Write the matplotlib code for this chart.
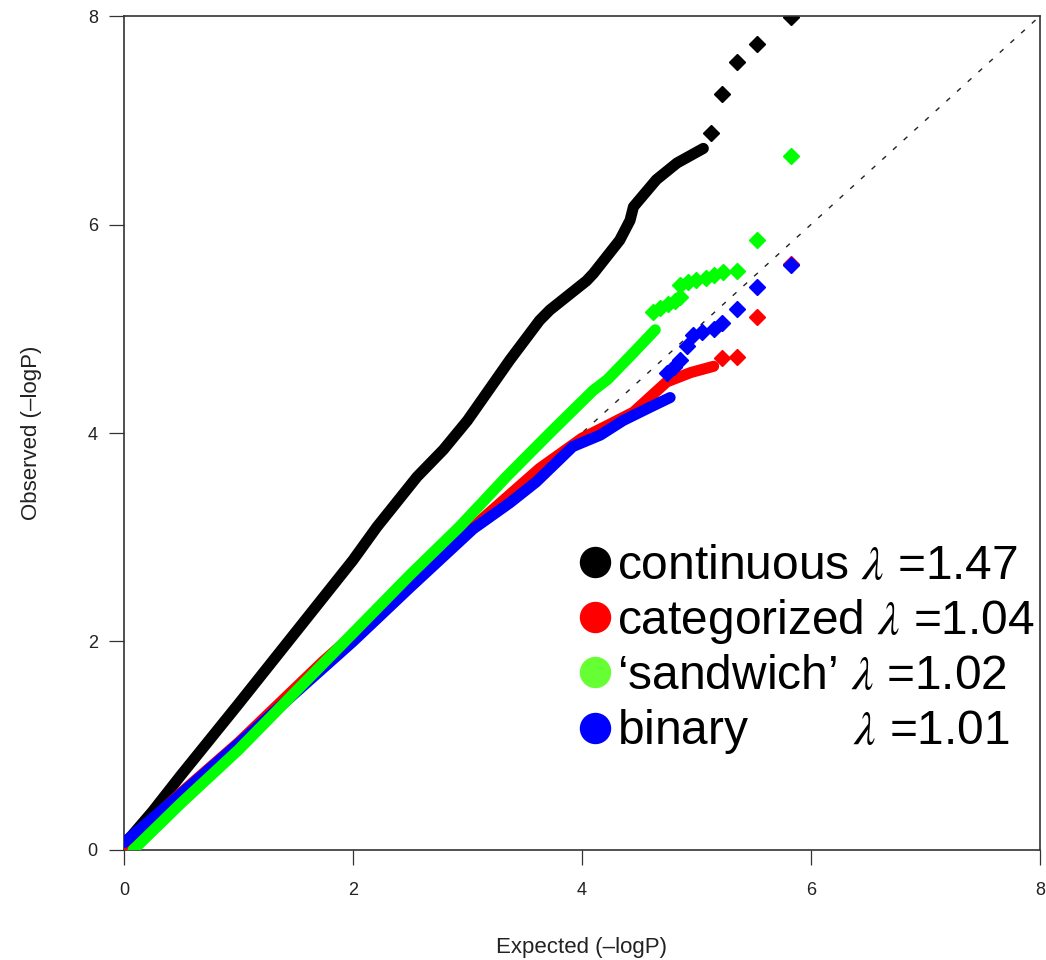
import matplotlib
matplotlib.use("Agg")
import matplotlib.pyplot as plt
from matplotlib.lines import Line2D

plt.rcParams["font.family"] = ["Liberation Sans", "DejaVu Sans"]
plt.rcParams["mathtext.fontset"] = "stix"

# dense part of each QQ curve (expected, observed)
cont_x = [0.00, 0.25, 0.50, 1.00, 1.50, 2.00, 2.21, 2.56, 2.79, 3.00, 3.37, 3.63, 3.72, 4.04, 4.10, 4.33, 4.42, 4.45, 4.65, 4.83, 5.06]
cont_y = [0.05, 0.37, 0.72, 1.40, 2.09, 2.78, 3.10, 3.58, 3.84, 4.12, 4.70, 5.08, 5.18, 5.46, 5.53, 5.85, 6.04, 6.17, 6.43, 6.59, 6.73]
cat_x = [0.00, 0.50, 1.00, 1.74, 2.50, 3.05, 3.63, 4.00, 4.20, 4.45, 4.74, 4.95, 5.15]
cat_y = [0.04, 0.55, 1.03, 1.81, 2.55, 3.10, 3.66, 3.95, 4.06, 4.20, 4.49, 4.58, 4.64]
bin_x = [0.00, 0.50, 1.00, 1.50, 2.00, 2.50, 3.05, 3.37, 3.60, 3.92, 4.16, 4.36, 4.60, 4.77]
bin_y = [0.07, 0.54, 1.02, 1.51, 2.00, 2.52, 3.08, 3.33, 3.53, 3.87, 3.98, 4.12, 4.25, 4.34]
sand_x = [0.08, 0.50, 1.00, 1.50, 2.00, 2.50, 2.93, 3.34, 3.72, 4.10, 4.22, 4.45, 4.64]
sand_y = [0.00, 0.45, 0.96, 1.52, 2.08, 2.64, 3.10, 3.58, 4.00, 4.41, 4.51, 4.77, 4.99]

# sparse tail points
cont_tx = [5.13, 5.22, 5.35, 5.53, 5.83]
cont_ty = [6.88, 7.25, 7.56, 7.73, 7.99]
cat_tx = [5.22, 5.35, 5.53, 5.83]
cat_ty = [4.72, 4.73, 5.11, 5.62]
bin_tx = [4.74, 4.80, 4.86, 4.92, 4.97, 5.05, 5.15, 5.22, 5.35, 5.53, 5.83]
bin_ty = [4.58, 4.63, 4.70, 4.83, 4.94, 4.97, 5.00, 5.06, 5.19, 5.40, 5.61]
sand_tx = [4.62, 4.68, 4.75, 4.81, 4.86, 4.86, 4.93, 5.00, 5.08, 5.15, 5.23, 5.35, 5.53, 5.83]
sand_ty = [5.16, 5.20, 5.24, 5.27, 5.30, 5.42, 5.45, 5.47, 5.49, 5.52, 5.54, 5.55, 5.85, 6.66]

labels = ["continuous $\\lambda$ =1.47", "categorized $\\lambda$ =1.04",
          "\u2018sandwich\u2019 $\\lambda$ =1.02", "binary        $\\lambda$ =1.01"]
legend_colors = ["#000000", "#ff0000", "#66ff33", "#0000ff"]

fig = plt.figure(figsize=(10.46, 9.6), dpi=100)
ax = fig.add_axes([0.1185, 0.1146, 0.8757, 0.8687])

lim = [0, 8]
ax.plot(lim, lim, color="#222222", lw=1, ls=(0, (3.6, 6.8)), zorder=1)

series = [
    (cont_x, cont_y, cont_tx, cont_ty, "#000000"),
    (cat_x, cat_y, cat_tx, cat_ty, "#ff0000"),
    (bin_x, bin_y, bin_tx, bin_ty, "#0000ff"),
    (sand_x, sand_y, sand_tx, sand_ty, "#00ff00"),
]
for i, (x, y, tx, ty, c) in enumerate(series):
    ax.plot(x, y, color=c, lw=8, solid_capstyle="round", solid_joinstyle="round", zorder=2 + i)
    ax.plot(tx, ty, ls="none", marker="D", ms=8.2, color=c, mec=c, zorder=2 + i)

ax.set_xlim(lim)
ax.set_ylim(lim)
ax.set_xticks([0, 2, 4, 6, 8])
ax.set_yticks([0, 2, 4, 6, 8])
ax.tick_params(direction="out", length=10.8, width=0.9, color="#333333",
               labelsize=13, labelcolor="#222222")
ax.tick_params(axis="x", pad=12)
ax.tick_params(axis="y", pad=8)
for s in ax.spines.values():
    s.set_linewidth(1.2)
    s.set_color("#333333")

ax.set_xlabel("Expected (\u2013logP)", fontsize=16, color="#222222")
ax.set_ylabel("Observed (\u2013logP)", fontsize=16, color="#222222")
ax.xaxis.set_label_coords(0.5, -0.104)
ax.yaxis.set_label_coords(-0.09, 0.5)

handles = [Line2D([], [], ls="none", marker="o", ms=21.6, color=c) for c in legend_colors]
ax.legend(handles, labels, loc="upper left", bbox_to_anchor=(0.497, 0.367),
          frameon=False, fontsize=34.5, handlelength=0.67, handletextpad=0.12,
          labelspacing=0.17, borderpad=0, borderaxespad=0)

fig.savefig("out.png", dpi=100)
